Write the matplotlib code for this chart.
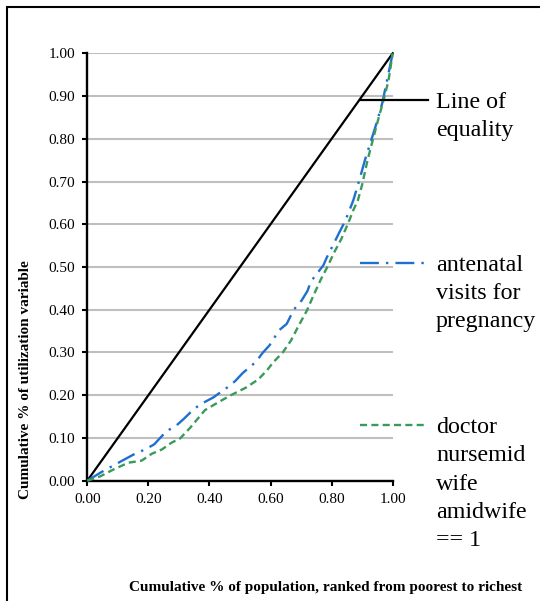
import matplotlib
matplotlib.use('Agg')
import matplotlib.pyplot as plt
from matplotlib.lines import Line2D
from matplotlib.patches import Rectangle
import numpy as np

plt.rcParams['font.family'] = ['Liberation Serif', 'DejaVu Serif']

# concentration curves
pop_share = [0, 1]
equality = [0, 1]

antenatal_x = [0, 0.047, 0.107, 0.156, 0.189, 0.219, 0.258, 0.293, 0.315, 0.351,
               0.379, 0.413, 0.458, 0.484, 0.509, 0.552, 0.574, 0.597, 0.628, 0.653,
               0.676, 0.702, 0.721, 0.732, 0.773, 0.784, 0.796, 0.826, 0.841, 0.852,
               0.871, 0.891, 0.911, 0.929, 0.946, 0.966, 1.0]
antenatal_y = [0, 0.0205, 0.044, 0.063, 0.073, 0.085, 0.115, 0.13, 0.144, 0.169,
               0.182, 0.195, 0.218, 0.233, 0.252, 0.278, 0.299, 0.317, 0.352, 0.367,
               0.40, 0.422, 0.444, 0.466, 0.504, 0.522, 0.539, 0.582, 0.603, 0.621,
               0.656, 0.704, 0.755, 0.795, 0.834, 0.884, 1.0]

doctor_x = [0, 0.042, 0.085, 0.134, 0.178, 0.211, 0.244, 0.276, 0.304, 0.337,
            0.385, 0.43, 0.47, 0.52, 0.56, 0.588, 0.61, 0.64, 0.667, 0.69,
            0.719, 0.741, 0.764, 0.786, 0.809, 0.832, 0.854, 0.871, 0.886, 0.9,
            0.917, 0.934, 0.951, 0.969, 0.986, 1.0]
doctor_y = [0, 0.01, 0.026, 0.042, 0.047, 0.063, 0.073, 0.089, 0.099, 0.124,
            0.165, 0.184, 0.2, 0.218, 0.237, 0.258, 0.278, 0.30, 0.328, 0.36,
            0.398, 0.434, 0.47, 0.50, 0.535, 0.566, 0.602, 0.633, 0.656, 0.693,
            0.748, 0.795, 0.841, 0.888, 0.935, 1.0]

x_ticks = [0, 0.2, 0.4, 0.6, 0.8, 1.0]
y_ticks = [0, 0.1, 0.2, 0.3, 0.4, 0.5, 0.6, 0.7, 0.8, 0.9, 1.0]

legend_labels = [['Line of', 'equality'],
                 ['antenatal', 'visits for', 'pregnancy'],
                 ['doctor', 'nursemid', 'wife', 'amidwife', '== 1']]

W, H = 540, 601
def fx(px): return px / W
def fy(py): return 1 - py / H

fig = plt.figure(figsize=(W / 100, H / 100), dpi=100)

# outer chart border (right/bottom run off the picture)
fig.add_artist(Rectangle((fx(6.5), fy(700)), 1.2, fy(6.5) - fy(700),
                         transform=fig.transFigure, fill=False,
                         edgecolor='black', lw=1.5))

ax = fig.add_axes([fx(87.3), fy(480.7), fx(392.7) - fx(87.3), fy(53.3) - fy(480.7)])

green = '#3a9a5b'
blue = '#1f6fd0'

ax.plot(pop_share, equality, color='black', lw=1.6, zorder=3, clip_on=False)
l1, = ax.plot(antenatal_x, antenatal_y, color=blue, lw=1.7, zorder=4, clip_on=False)
l1.set_dashes((8, 3, 1, 3))
l2, = ax.plot(doctor_x, doctor_y, color=green, lw=1.7, zorder=5, clip_on=False)
l2.set_dashes((3, 1.8))

ax.set_xlim(0, 1)
ax.set_ylim(0, 1)
ax.set_xticks(x_ticks)
ax.set_yticks(y_ticks)
ax.set_xticklabels(['%.2f' % v for v in x_ticks])
ax.set_yticklabels(['%.2f' % v for v in y_ticks])
ax.tick_params(axis='both', direction='out', length=3.5, width=1.5, color='black',
               labelsize=11, pad=5)
ax.yaxis.grid(True, color='#bfbfbf', lw=1.5)
ax.set_axisbelow(True)
for s in ['top', 'right']:
    ax.spines[s].set_visible(False)
for s in ['left', 'bottom']:
    ax.spines[s].set_linewidth(1.7)
    ax.spines[s].set_zorder(2.5)

fig.text(fx(326), fy(588), 'Cumulative % of population, ranked from poorest to richest',
         ha='center', va='center', fontsize=11, fontweight='bold')
fig.text(fx(26), fy(380), 'Cumulative % of utilization variable', rotation=90,
         ha='center', va='center', fontsize=11, fontweight='bold')

# legend on the right, drawn by hand like the Excel layout
samples = [dict(color='black', lw=1.6),
           dict(color=blue, lw=1.7, dashes=(8, 3, 1, 3)),
           dict(color=green, lw=1.7, dashes=(3, 1.8))]
sample_y = [99.5, 262.7, 425]
for (lines, sy, st) in zip(legend_labels, sample_y, samples):
    fig.add_artist(Line2D([fx(360), fx(428)], [fy(sy), fy(sy)],
                          transform=fig.transFigure, zorder=6, **st))
    for (i, t) in enumerate(lines):
        fig.text(fx(436), fy(sy + 8 + 28.3 * i), t, ha='left', va='baseline',
                 fontsize=17.3)

fig.savefig('out.png', dpi=100)
